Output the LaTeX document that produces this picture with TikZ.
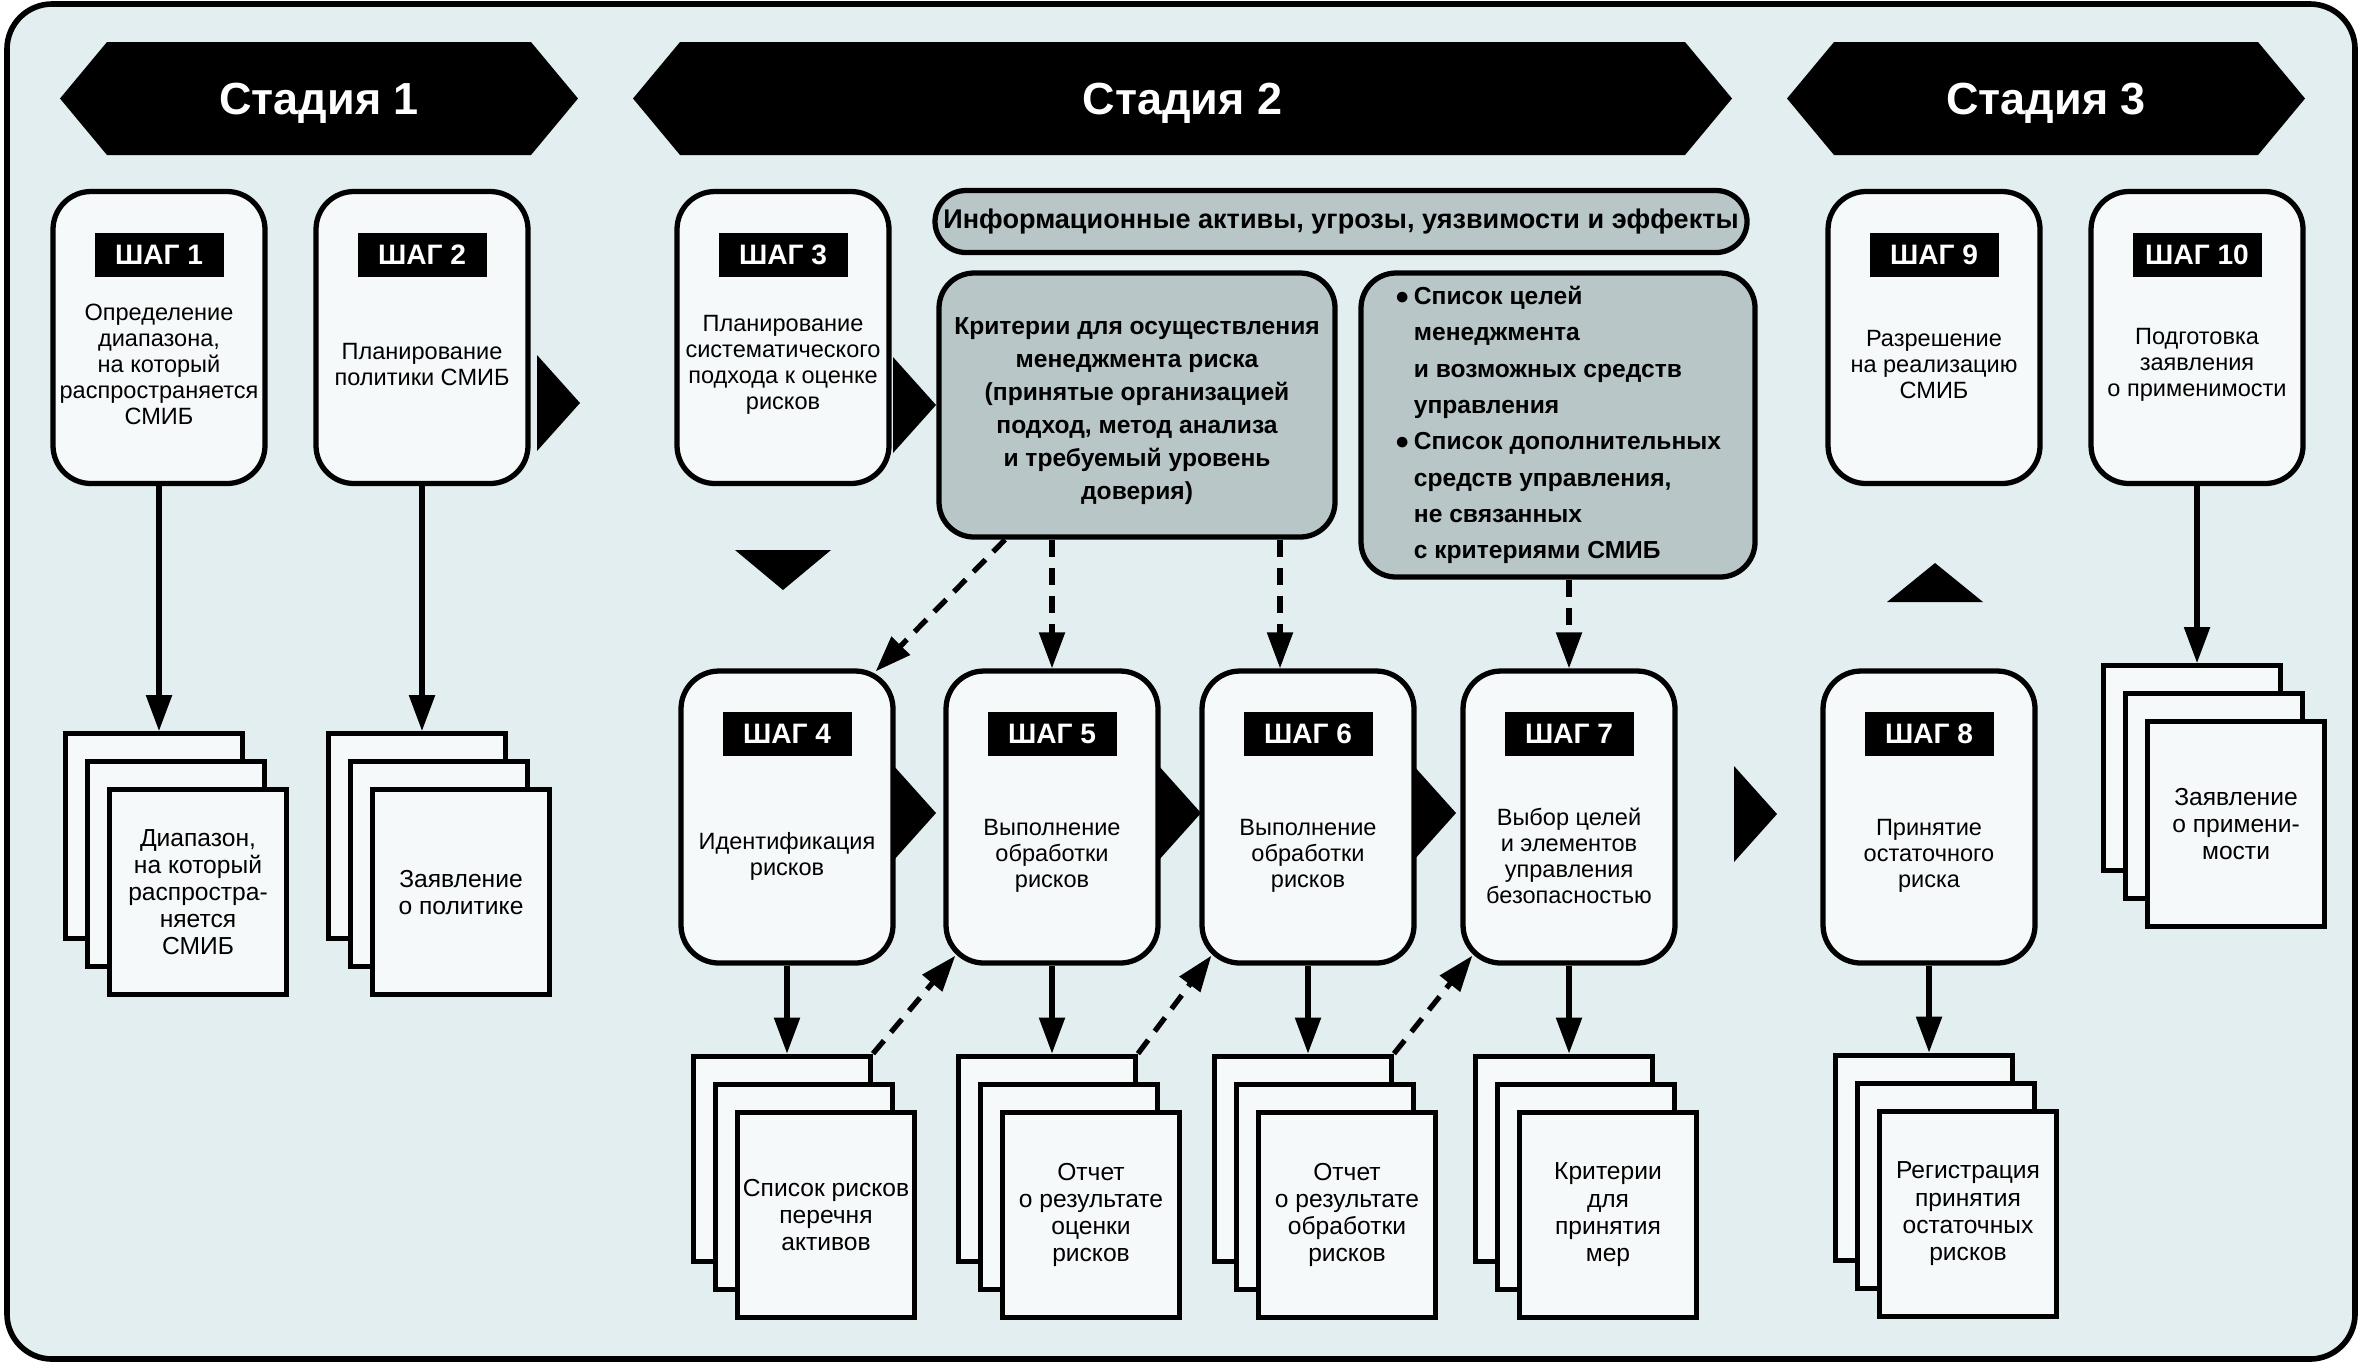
\documentclass[tikz,border=0pt]{standalone}
\usepackage{fontspec}
\setmainfont{Liberation Sans}
\usetikzlibrary{positioning, arrows.meta}

\definecolor{bgfill}{HTML}{E3EEF0}
\definecolor{boxfill}{HTML}{F6F9F9}
\definecolor{greyfill}{HTML}{B8C6C8}

\tikzset{
  stepbox/.style={draw, line width=1.5pt, fill=boxfill, rounded corners=0.38cm,
    minimum width=2.12cm, minimum height=2.92cm, inner sep=0pt},
  steptag/.style={fill=black, text=white, font=\bfseries\fontsize{8}{9}\selectfont,
    minimum width=1.29cm, minimum height=0.44cm, inner sep=0pt},
  steptext/.style={align=center, font=\fontsize{6.7}{7.4}\selectfont, inner sep=0pt},
  docbox/.style={draw, line width=1.4pt, fill=boxfill, minimum width=1.77cm,
    minimum height=2.05cm, inner sep=0pt},
  doctext/.style={align=center, font=\fontsize{7}{7.7}\selectfont},
  greybox/.style={draw, line width=1.5pt, fill=greyfill, rounded corners=0.35cm,
    inner sep=0pt, font=\bfseries\fontsize{7}{9.4}\selectfont},
  stagetext/.style={text=white, font=\bfseries\fontsize{12.8}{15}\selectfont},
  arr/.style={line width=1.5pt, -{Triangle[width=0.25cm,length=0.36cm]}},
  dasharr/.style={arr, dash pattern=on 0.17cm off 0.11cm},
}

\begin{document}
\begin{tikzpicture}
    \useasboundingbox (0,0) rectangle (23.62,-13.67);
    \draw[line width=1.6pt, rounded corners=0.45cm, fill=bgfill] (0.07,-0.04) rectangle (23.55,-13.59);

    % stages
    \foreach \n/\a/\b in {1/0.60/5.78, 2/6.33/17.32, 3/17.87/23.05} {
        \fill (\a,-0.985) -- ({\a+0.47},-0.42) -- ({\b-0.47},-0.42) -- (\b,-0.985)
            -- ({\b-0.47},-1.55) -- ({\a+0.47},-1.55) -- cycle;
        \node[stagetext] (stage\n) at ({(\a+\b)/2},-1.035) {Стадия \n};
    }

    % flow triangles
    \foreach \x/\y in {5.37/-4.03, 8.93/-4.05, 8.93/-8.13, 11.58/-8.13, 14.13/-8.13, 17.34/-8.14}
        \fill (\x,{\y+0.48}) -- ({\x+0.43},\y) -- (\x,{\y-0.48}) -- cycle;
    \fill (7.35,-5.50) -- (8.31,-5.50) -- (7.83,-5.90) -- cycle;
    \fill (18.87,-6.02) -- (19.83,-6.02) -- (19.35,-5.63) -- cycle;

    % grey boxes
    \node[greybox, rounded corners=0.31cm, minimum width=8.12cm, minimum height=0.62cm,
        font=\bfseries\fontsize{7.7}{9}\selectfont] (info) at (13.41,-2.215)
        {Информационные активы, угрозы, уязвимости и эффекты};
    \node[greybox, minimum width=3.96cm, minimum height=2.64cm] (crit) at (11.37,-4.05) {};
    \node[align=center, inner sep=0pt, font=\bfseries\fontsize{7}{9.4}\selectfont] (crittext)
        at ([yshift=-0.06cm]crit.center)
        {Критерии для осуществления\\менеджмента риска\\(принятые организацией\\подход, метод анализа\\и требуемый уровень\\доверия)};
    \node[greybox, align=left, minimum width=3.94cm, minimum height=3.04cm,
        font=\bfseries\fontsize{7}{10.35}\selectfont] (goals) at (15.58,-4.25)
        {●\,Список целей\\\phantom{●\,}менеджмента\\\phantom{●\,}и возможных средств\\\phantom{●\,}управления\\●\,Список дополнительных\\\phantom{●\,}средств управления,\\\phantom{●\,}не связанных\\\phantom{●\,}с критериями СМИБ};

    % steps
    \foreach \n/\x/\txt in {1/1.59/{Определение\\диапазона,\\на который\\распространяется\\СМИБ},
        2/4.22/{Планирование\\политики СМИБ},
        3/7.83/{Планирование\\систематического\\подхода к оценке\\рисков},
        9/19.34/{Разрешение\\на реализацию\\СМИБ},
        10/21.97/{Подготовка\\заявления\\о применимости}} {
        \node[stepbox] (st\n) at (\x,-3.375) {};
        \node[steptag] (tag\n) at ([yshift=0.83cm]st\n.center) {ШАГ \n};
        \node[steptext] (txt\n) at ([yshift=-0.27cm]st\n.center) {\txt};
    }
    \foreach \n/\x/\txt in {4/7.87/{Идентификация\\рисков},
        5/10.52/{Выполнение\\обработки\\рисков},
        6/13.08/{Выполнение\\обработки\\рисков},
        7/15.69/{Выбор целей\\и элементов\\управления\\безопасностью},
        8/19.29/{Принятие\\остаточного\\риска}} {
        \node[stepbox] (st\n) at (\x,-8.17) {};
        \node[steptag] (tag\n) at ([yshift=0.83cm]st\n.center) {ШАГ \n};
        \node[steptext] (txt\n) at ([yshift=-0.39cm]st\n.center) {\txt};
    }

    % document stacks
    \foreach \n/\g/\txt in {1/2.45/{Диапазон,\\на который\\распростра-\\няется\\СМИБ},
        2/2.45/{Заявление\\о политике},
        10/1.77/{Заявление\\о примени-\\мости},
        4/0.88/{Список рисков\\перечня\\активов},
        5/0.88/{Отчет\\о результате\\оценки\\рисков},
        6/0.88/{Отчет\\о результате\\обработки\\рисков},
        7/0.88/{Критерии\\для\\принятия\\мер},
        8/0.87/{Регистрация\\принятия\\остаточных\\рисков}} {
        \node[docbox, below=\g cm of st\n, xshift=-0.05cm] (back\n) {};
        \node[docbox, anchor=north west] (mid\n) at ([shift={(0.22,-0.28)}]back\n.north west) {};
        \node[docbox, doctext, anchor=north west] (doc\n) at ([shift={(0.22,-0.28)}]mid\n.north west) {\txt};
        \draw[arr] (st\n.south) -- (st\n.south |- back\n.north);
    }

    % dashed links
    \draw[dasharr] ([xshift=-1.32cm]crit.south) -- ([shift={(-0.2,-0.03)}]st4.north east);
    \draw[dasharr] (st5.north |- crit.south) -- (st5.north);
    \draw[dasharr] ([xshift=-0.28cm]st6.north |- crit.south) -- ([xshift=-0.28cm]st6.north);
    \draw[dasharr] (st7.north |- goals.south) -- (st7.north);
    \draw[dasharr] (back4.north east) -- ([shift={(0.12,0.1)}]st5.south west);
    \draw[dasharr] (back5.north east) -- ([shift={(0.12,0.1)}]st6.south west);
    \draw[dasharr] (back6.north east) -- ([shift={(0.12,0.1)}]st7.south west);
\end{tikzpicture}
\end{document}
